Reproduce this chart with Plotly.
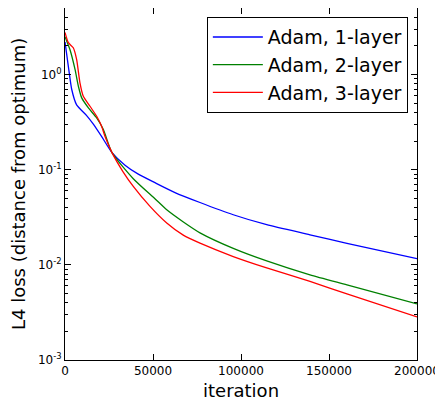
import plotly.graph_objects as go

iters_1 = [0, 1900, 3800, 6600, 12300, 16100, 20850, 26700, 34100, 41650, 51100, 62500, 76700, 95600, 114600, 139200, 160200, 200000]
loss_1 = [2.2, 1.22, 0.70, 0.48, 0.370, 0.301, 0.2225, 0.151, 0.1115, 0.0897, 0.0730, 0.0575, 0.0452, 0.0336, 0.0264, 0.0207, 0.0168, 0.0116]

iters_2 = [0, 2800, 5700, 7600, 9500, 13300, 18000, 21800, 26700, 38800, 51100, 57800, 67050, 76700, 95600, 114600, 139200, 160200, 200000]
loss_2 = [2.5, 1.83, 1.13, 0.753, 0.568, 0.446, 0.35, 0.264, 0.151, 0.0804, 0.0495, 0.0379, 0.0284, 0.0217, 0.0149, 0.0110, 0.00785, 0.00616, 0.00389]

iters_3 = [0, 1900, 4700, 6600, 8500, 10400, 14200, 18000, 20800, 22700, 26700, 33000, 38800, 48300, 57800, 67200, 76700, 95600, 114600, 139200, 160200, 200000]
loss_3 = [2.77, 2.16, 1.91, 1.44, 0.817, 0.59, 0.464, 0.364, 0.286, 0.224, 0.151, 0.095, 0.0667, 0.0411, 0.0275, 0.0205, 0.0169, 0.01223, 0.00929, 0.0067, 0.00495, 0.00284]

names = ["Adam, 1-layer", "Adam, 2-layer", "Adam, 3-layer"]
colors = ["#0000ff", "#008000", "#ff0000"]

x_ticks = [0, 50000, 100000, 150000, 200000]
y_tickvals = [1e-3, 1e-2, 1e-1, 1e0]
y_ticktext = ["10<sup>-3</sup>", "10<sup>-2</sup>", "10<sup>-1</sup>", "10<sup>0</sup>"]
y_minor = [m * 10.0 ** e for e in range(-3, 1) for m in range(2, 10)]

x_title = "iteration"
y_title = "L4 loss (distance from optimum)"

fig = go.Figure()
for xs, ys, n, c in zip([iters_1, iters_2, iters_3], [loss_1, loss_2, loss_3], names, colors):
    fig.add_trace(go.Scatter(x=xs, y=ys, mode="lines", name=n,
                             line=dict(color=c, width=1.3, shape="spline", smoothing=0.6)))

font = "DejaVu Sans, sans-serif"
# page body has an 8px default margin, so the figure is sized/offset to compensate
fig.update_layout(
    width=435, height=392,
    margin=dict(l=57, r=26, t=0, b=40),
    plot_bgcolor="white", paper_bgcolor="white",
    font=dict(family=font, color="black", size=12),
    showlegend=True,
    legend=dict(x=0.974, y=0.974, xanchor="right", yanchor="top",
                bordercolor="black", borderwidth=1, bgcolor="white",
                font=dict(size=19, family=font), tracegroupgap=0, itemwidth=50),
    annotations=[
        dict(text=x_title, xref="paper", yref="paper", x=0.5, y=-0.05,
             xanchor="center", yanchor="top", showarrow=False, font=dict(size=18)),
        dict(text=y_title, xref="paper", yref="paper", x=-0.1335, y=0.5, textangle=-90,
             xanchor="center", yanchor="middle", showarrow=False, font=dict(size=18)),
    ],
)
fig.update_xaxes(
    range=[0, 200000], tickvals=x_ticks, ticktext=[str(v) for v in x_ticks],
    ticks="inside", ticklen=6, tickcolor="black", showline=True, linecolor="black",
    linewidth=1, mirror="ticks", showgrid=False, zeroline=False, automargin=False,
    tickfont=dict(size=12),
)
fig.update_yaxes(
    type="log", range=[-3, 0.699], tickvals=y_tickvals, ticktext=y_ticktext,
    ticks="inside", ticklen=6, tickcolor="black", showline=True, linecolor="black",
    linewidth=1, mirror="ticks", showgrid=False, zeroline=False, automargin=False,
    minor=dict(ticks="inside", ticklen=3, tickcolor="black", showgrid=False, tickvals=y_minor),
    tickfont=dict(size=12),
)
fig.write_html("out.html")
